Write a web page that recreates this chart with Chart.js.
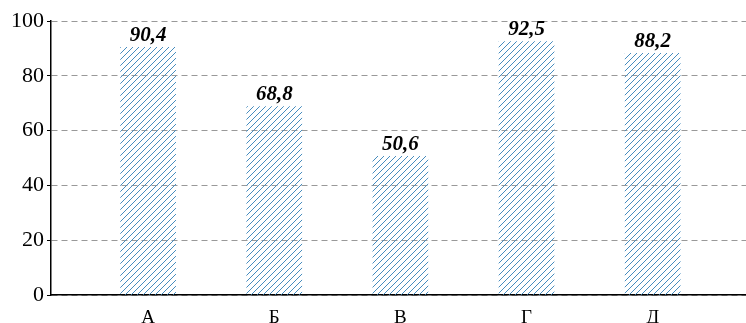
<!DOCTYPE html>
<html>
<head>
<meta charset="utf-8">
<script src="https://cdn.jsdelivr.net/npm/chart.js@4"></script>
<style>
  html, body { margin: 0; padding: 0; background: #fff; }
  #wrap { width: 746px; height: 323px; }
</style>
</head>
<body>
<div id="wrap"><canvas id="myChart"></canvas></div>
<script>
// Datas
const categories = ["А", "Б", "В", "Г", "Д"];
const values = [90.4, 68.8, 50.6, 92.5, 88.2];
const yTicks = [0, 20, 40, 60, 80, 100];

// hatch fill for the bars
function hatch() {
    const c = document.createElement('canvas');
    c.width = 6; c.height = 6;
    const g = c.getContext('2d');
    g.strokeStyle = 'rgb(70, 140, 190)';
    g.lineWidth = 1;
    g.beginPath();
    g.moveTo(0, 6); g.lineTo(6, 0);
    g.moveTo(-1, 1); g.lineTo(1, -1);
    g.moveTo(5, 7); g.lineTo(7, 5);
    g.stroke();
    return g.createPattern(c, 'repeat');
}

// values on top of bars
const valueLabels = {
    id: 'valueLabels',
    afterDatasetsDraw(chart) {
        const ctx = chart.ctx;
        const meta = chart.getDatasetMeta(0);
        ctx.save();
        ctx.font = 'italic bold 21px "Liberation Serif"';
        ctx.fillStyle = '#000';
        ctx.textAlign = 'center';
        ctx.textBaseline = 'bottom';
        meta.data.forEach((bar, i) => {
            ctx.fillText(values[i].toFixed(1).replace('.', ','), bar.x, bar.y - 1);
        });
        ctx.restore();
    }
};

const myChart = new Chart('myChart', {
    type: 'bar',
    data: {
        datasets: [{
            data: values.map((v, i) => ({ x: i, y: v })),
            backgroundColor: hatch(),
            borderWidth: 0,
            barThickness: 55
        }]
    },
    options: {
        responsive: true,
        maintainAspectRatio: false,
        animation: false,
        layout: { padding: { top: 21, right: 0, left: 0, bottom: 0 } },
        plugins: { legend: { display: false }, tooltip: { enabled: false } },
        scales: {
            x: {
                type: 'linear',
                offset: false,
                min: -0.77,
                max: 4.74,
                grid: { display: false },
                border: { color: '#000', width: 1.5 },
                afterBuildTicks: (s) => { s.ticks = categories.map((c, i) => ({ value: i })); },
                ticks: {
                    color: '#000',
                    font: { family: '"Liberation Serif"', size: 19 },
                    padding: 4,
                    autoSkip: false,
                    maxRotation: 0,
                    callback: (v) => categories[v]
                },
                afterFit: (s) => { s.height = 28; }
            },
            y: {
                min: 0,
                max: 100,
                afterBuildTicks: (s) => { s.ticks = yTicks.map(v => ({ value: v })); },
                grid: {
                    color: '#999',
                    tickColor: '#000',
                    tickLength: 4,
                    drawTicks: true
                },
                border: { color: '#000', width: 1.5, dash: [6, 4] },
                ticks: {
                    color: '#000',
                    font: { family: '"Liberation Serif"', size: 22 },
                    padding: 3
                },
                afterFit: (s) => { s.width = 51; }
            }
        }
    },
    plugins: [valueLabels]
});
</script>
</body>
</html>
